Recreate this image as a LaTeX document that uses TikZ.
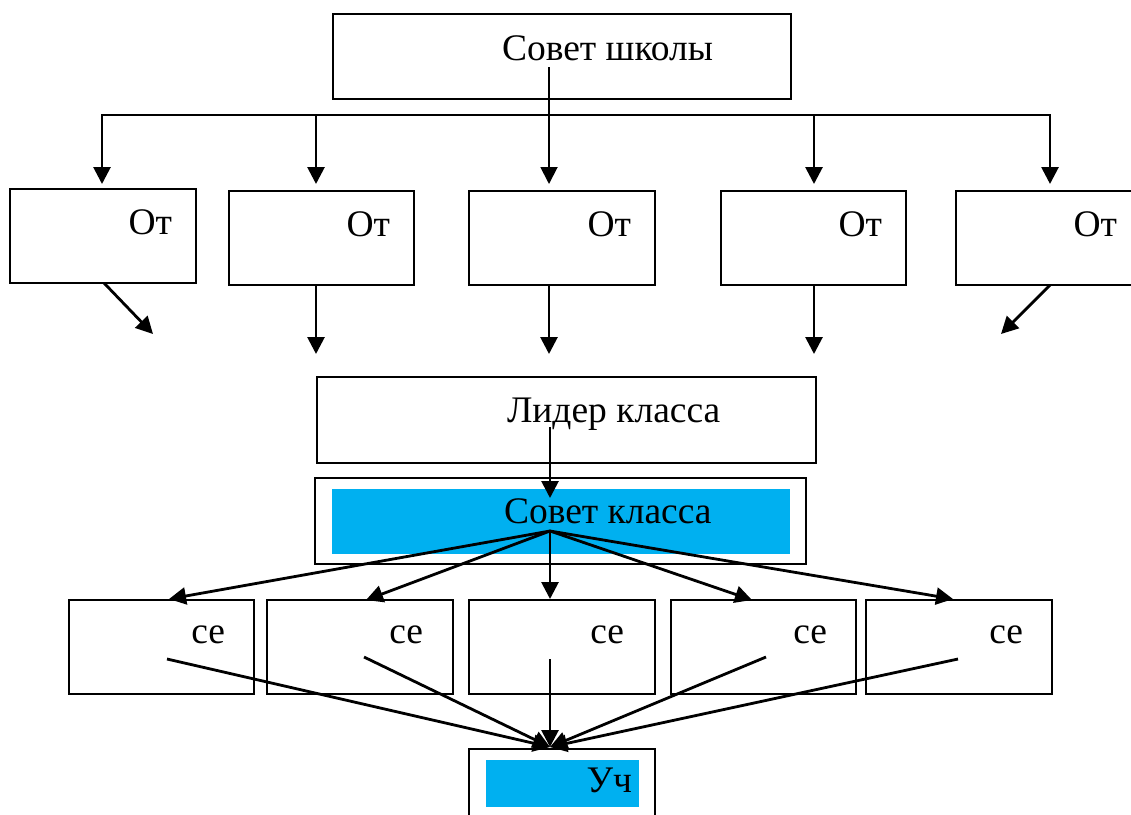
\documentclass[tikz,border=0pt]{standalone}
\usepackage{fontspec}
\setmainfont{Liberation Serif}
\usetikzlibrary{arrows.meta}
\definecolor{cyanfill}{RGB}{0,176,240}
\begin{document}
\begin{tikzpicture}[x=1pt,y=-1pt,
  box/.style={draw,line width=2.4pt,inner sep=0pt,outer sep=0pt,anchor=north west},
  wh/.style 2 args={minimum width=#1pt,minimum height=#2pt},
  bluefill/.style={fill=cyanfill,draw=none,inner sep=0pt,outer sep=0pt,anchor=north west},
  lbl/.style={inner sep=0pt,outer sep=0pt,font=\fontsize{37.5}{40}\selectfont},
  tip/.tip={Triangle[length=17pt,width=17pt]},
  conn/.style={line width=2.8pt,-tip},
  thinconn/.style={line width=1.9pt,-tip},
]
\useasboundingbox (0,0) rectangle (1131,814);
% ---- boxes
\node[box,wh={458}{85}] (top) at (333,14) {};
\node[box,wh={186}{94}] (o1) at (10,189) {};
\node[box,wh={185}{94}] (o2) at (229,191) {};
\node[box,wh={186}{94}] (o3) at (469,191) {};
\node[box,wh={185}{94}] (o4) at (721,191) {};
\node[box,wh={186}{94}] (o5) at (956,191) {};
\node[box,wh={499}{86}] (leader) at (317,377) {};
\node[box,wh={491}{86}] (sk) at (315,478) {};
\node[bluefill,wh={458}{65}] (skfill) at (332,489) {};
\node[box,wh={185}{94}] (c1) at (69,600) {};
\node[box,wh={186}{94}] (c2) at (267,600) {};
\node[box,wh={186}{94}] (c3) at (469,600) {};
\node[box,wh={185}{94}] (c4) at (671,600) {};
\node[box,wh={186}{94}] (c5) at (866,600) {};
\node[box,wh={186}{90}] (uch) at (469,749) {};
\node[bluefill,wh={153}{47}] (uchfill) at (486,760) {};
% ---- texts
\node[lbl,anchor=base west] (ttop) at (502,60) {Совет школы};
\node[lbl,anchor=base east] (t1) at (172,234) {От};
\node[lbl,anchor=base east] (t2) at (390,236) {От};
\node[lbl,anchor=base east] (t3) at (631,236) {От};
\node[lbl,anchor=base east] (t4) at (882,236) {От};
\node[lbl,anchor=base east] (t5) at (1117,236) {От};
\node[lbl,anchor=base west] (tleader) at (507,422) {Лидер класса};
\node[lbl,anchor=base west] (tsk) at (504,523) {Совет класса};
\node[lbl,anchor=base east] (s1) at (225,643) {се};
\node[lbl,anchor=base east] (s2) at (423,643) {се};
\node[lbl,anchor=base east] (s3) at (624,643) {се};
\node[lbl,anchor=base east] (s4) at (827,643) {се};
\node[lbl,anchor=base east] (s5) at (1023,643) {се};
\node[lbl,anchor=base east] (tuch) at (632,792) {Уч};
% ---- connector points
\coordinate (topsrc) at (549,67);
\coordinate (h1) at (102,115);
\coordinate (h2) at (316,115);
\coordinate (h4) at (814,115);
\coordinate (h5) at (1050,115);
\coordinate (d1) at (102,184);
\coordinate (d2) at (316,184);
\coordinate (d3) at (549,184);
\coordinate (d4) at (814,184);
\coordinate (d5) at (1050,184);
\coordinate (e1a) at (104,283); \coordinate (e1b) at (153,334);
\coordinate (e2a) at (316,285); \coordinate (e2b) at (316,354);
\coordinate (e3a) at (549,285); \coordinate (e3b) at (549,354);
\coordinate (e4a) at (814,285); \coordinate (e4b) at (814,354);
\coordinate (e5a) at (1050,285); \coordinate (e5b) at (1001,334);
\coordinate (lsrc) at (550,427);
\coordinate (ltip) at (550,498);
\coordinate (fan) at (550,531);
\coordinate (f1) at (169,599);
\coordinate (f2) at (366,600);
\coordinate (f3) at (550,599);
\coordinate (f4) at (752,600);
\coordinate (f5) at (953,599);
\coordinate (g1) at (167,659);
\coordinate (g2) at (364,657);
\coordinate (g3) at (550,659);
\coordinate (g4) at (766,657);
\coordinate (g5) at (958,659);
\coordinate (gtip) at (550,747);
% ---- connectors
\draw[thinconn] (topsrc) -- (d3);
\draw[line width=2.8pt,tip-tip] (d1) -- (h1) -- (h5) -- (d5);
\draw[conn] (h2) -- (d2);
\draw[conn] (h4) -- (d4);
\draw[conn] (e1a) -- (e1b);
\draw[conn] (e2a) -- (e2b);
\draw[conn] (e3a) -- (e3b);
\draw[conn] (e4a) -- (e4b);
\draw[conn] (e5a) -- (e5b);
\draw[conn] (lsrc) -- (ltip);
\foreach \f in {f1,f2,f3,f4,f5} \draw[conn] (fan) -- (\f);
\foreach \g in {g1,g2,g3,g4,g5} \draw[conn] (\g) -- (gtip);
\end{tikzpicture}
\end{document}
